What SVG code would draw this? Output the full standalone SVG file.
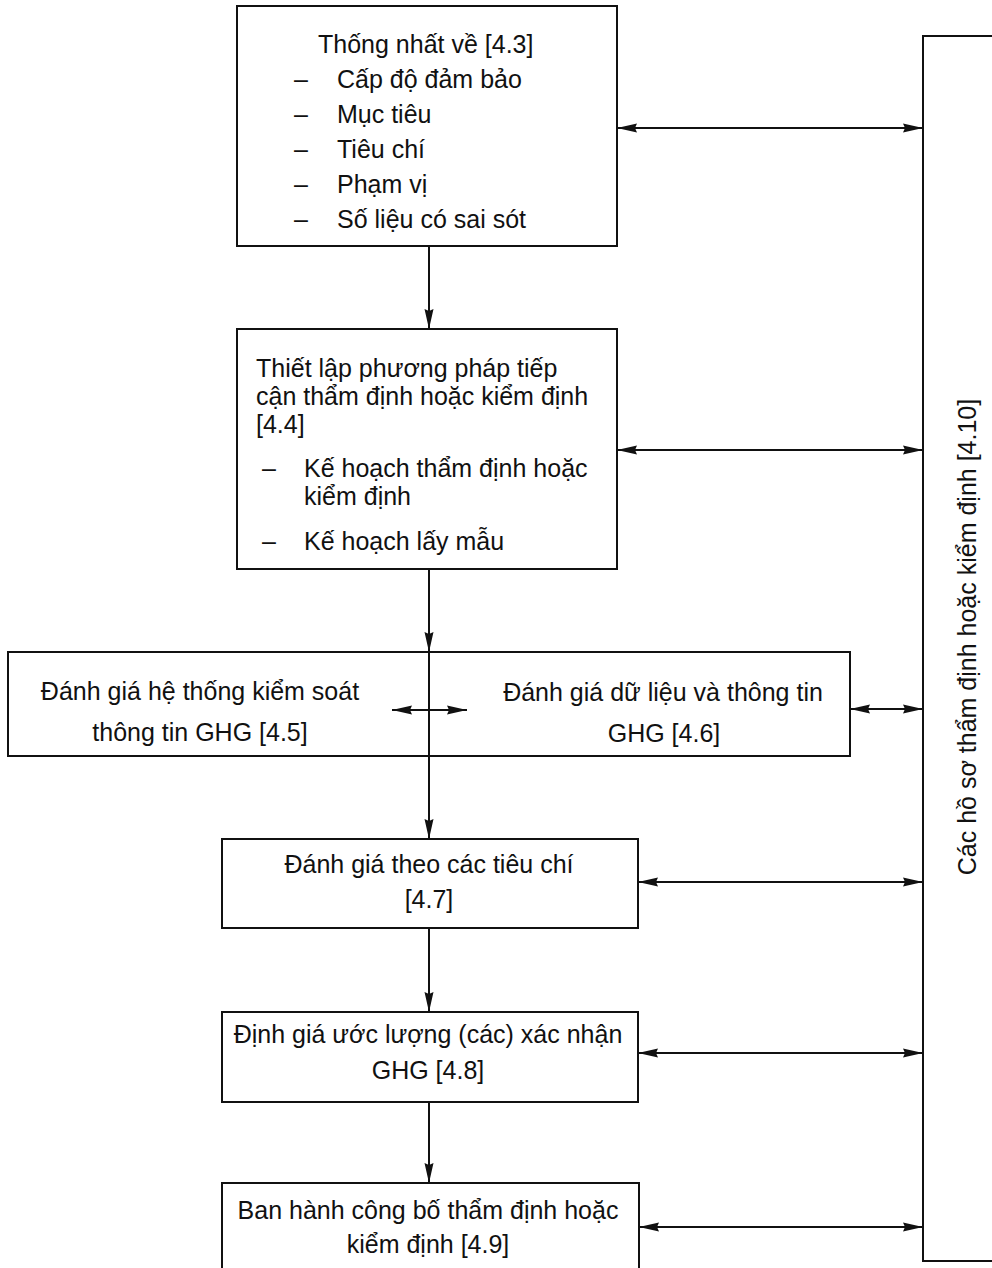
<svg xmlns="http://www.w3.org/2000/svg" width="992" height="1268" viewBox="0 0 992 1268">
<style>
  .box { fill: #fff; stroke: #111; stroke-width: 2; }
  .t { font-family: "Liberation Sans", Arial, sans-serif; font-size: 25px; fill: #111; }
  .c { text-anchor: middle; }
  .ln { stroke: #111; stroke-width: 2; fill: none; }
</style>
<defs>
  <marker id="ah" viewBox="0 0 20 10" refX="20" refY="5" markerWidth="20" markerHeight="10" markerUnits="userSpaceOnUse" orient="auto-start-reverse">
    <path d="M0,0.5 L20,5 L0,9.5 L2,5 z" fill="#111"/>
  </marker>
</defs>
<rect width="992" height="1268" fill="#fff"/>

<g id="records">
  <rect class="box" x="923" y="36" width="100" height="1225"/>
  <text class="t c" transform="translate(976,637) rotate(-90)">Các hồ sơ thẩm định hoặc kiểm định [4.10]</text>
</g>

<g id="agree">
  <rect class="box" x="237" y="6" width="380" height="240"/>
  <text class="t" x="318" y="53">Thống nhất về [4.3]</text>
  <text class="t" x="294" y="88">–</text><text class="t" x="337" y="88">Cấp độ đảm bảo</text>
  <text class="t" x="294" y="123">–</text><text class="t" x="337" y="123">Mục tiêu</text>
  <text class="t" x="294" y="158">–</text><text class="t" x="337" y="158">Tiêu chí</text>
  <text class="t" x="294" y="193">–</text><text class="t" x="337" y="193">Phạm vị</text>
  <text class="t" x="294" y="228">–</text><text class="t" x="337" y="228">Số liệu có sai sót</text>
</g>

<g id="approach">
  <rect class="box" x="237" y="329" width="380" height="240"/>
  <text class="t" x="256" y="377">Thiết lập phương pháp tiếp</text>
  <text class="t" x="256" y="405">cận thẩm định hoặc kiểm định</text>
  <text class="t" x="256" y="433">[4.4]</text>
  <text class="t" x="262" y="477">–</text><text class="t" x="304" y="477">Kế hoạch thẩm định hoặc</text>
  <text class="t" x="304" y="505">kiểm định</text>
  <text class="t" x="262" y="550">–</text><text class="t" x="304" y="550">Kế hoạch lấy mẫu</text>
</g>

<g id="assess-row">
  <rect class="box" x="8" y="652" width="842" height="104"/>
  <g id="control">
    <text class="t c" x="200" y="700">Đánh giá hệ thống kiểm soát</text>
    <text class="t c" x="200" y="741">thông tin GHG [4.5]</text>
  </g>
  <g id="data">
    <text class="t c" x="663" y="701">Đánh giá dữ liệu và thông tin</text>
    <text class="t c" x="664" y="742">GHG [4.6]</text>
  </g>
</g>

<g id="criteria">
  <rect class="box" x="222" y="839" width="416" height="89"/>
  <text class="t c" x="429" y="873">Đánh giá theo các tiêu chí</text>
  <text class="t c" x="429" y="908">[4.7]</text>
</g>

<g id="evaluate">
  <rect class="box" x="222" y="1012" width="416" height="90"/>
  <text class="t c" x="428" y="1043">Định giá ước lượng (các) xác nhận</text>
  <text class="t c" x="428" y="1079">GHG [4.8]</text>
</g>

<g id="issue">
  <rect class="box" x="222" y="1183" width="417" height="100"/>
  <text class="t c" x="428" y="1219">Ban hành công bố thẩm định hoặc</text>
  <text class="t c" x="428" y="1253">kiểm định [4.9]</text>
</g>

<g id="connectors">
  <line class="ln" x1="429" y1="246" x2="429" y2="329" marker-end="url(#ah)"/>
  <line class="ln" x1="429" y1="569" x2="429" y2="652" marker-end="url(#ah)"/>
  <line class="ln" x1="429" y1="652" x2="429" y2="839" marker-end="url(#ah)"/>
  <line class="ln" x1="429" y1="928" x2="429" y2="1012" marker-end="url(#ah)"/>
  <line class="ln" x1="429" y1="1102" x2="429" y2="1183" marker-end="url(#ah)"/>
  <line class="ln" x1="392" y1="710" x2="467" y2="710" marker-start="url(#ah)" marker-end="url(#ah)"/>
  <line class="ln" x1="617" y1="128" x2="923" y2="128" marker-start="url(#ah)" marker-end="url(#ah)"/>
  <line class="ln" x1="617" y1="450" x2="923" y2="450" marker-start="url(#ah)" marker-end="url(#ah)"/>
  <line class="ln" x1="850" y1="709" x2="923" y2="709" marker-start="url(#ah)" marker-end="url(#ah)"/>
  <line class="ln" x1="638" y1="882" x2="923" y2="882" marker-start="url(#ah)" marker-end="url(#ah)"/>
  <line class="ln" x1="638" y1="1053" x2="923" y2="1053" marker-start="url(#ah)" marker-end="url(#ah)"/>
  <line class="ln" x1="639" y1="1227" x2="923" y2="1227" marker-start="url(#ah)" marker-end="url(#ah)"/>
</g>
</svg>
